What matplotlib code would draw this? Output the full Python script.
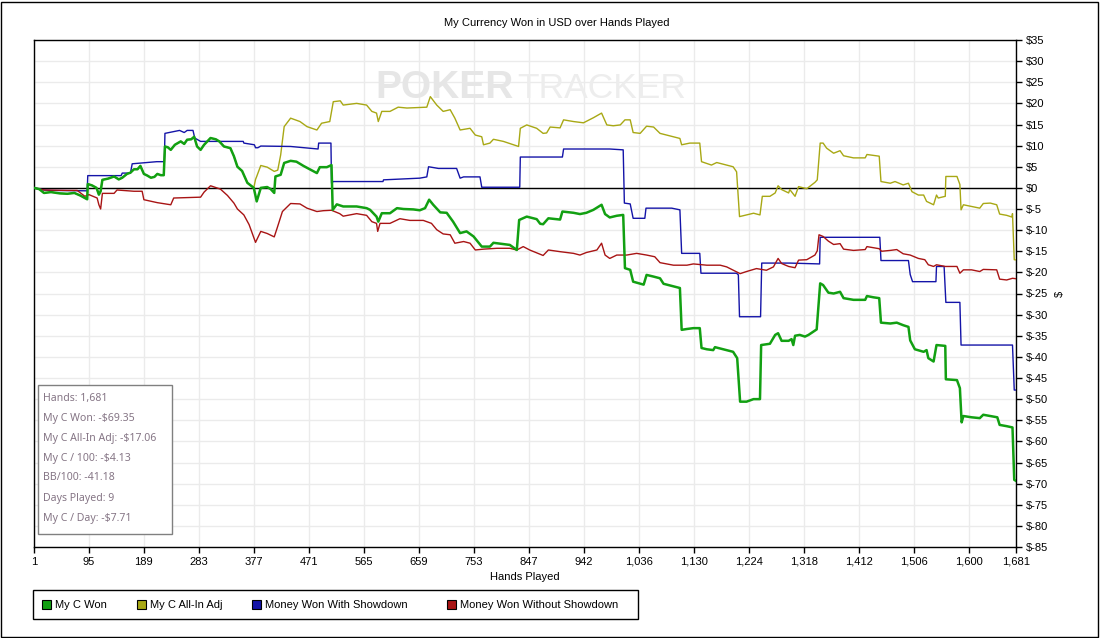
import matplotlib
matplotlib.use("Agg")
import matplotlib.pyplot as plt
from matplotlib.patches import Rectangle

# ---- data (hand number, dollars) ----
won_h = [1, 10, 18, 30, 45, 58, 70, 80, 92, 93, 100, 108, 112, 115, 118, 128, 138, 146, 152, 160,
         166, 172, 178, 183, 189, 195, 201, 207, 212, 218, 223, 225, 230, 235, 242, 252, 258, 263,
         270, 275, 280, 286, 292, 303, 312, 318, 326, 337, 343, 349, 357, 366, 377, 382, 389, 400,
         406, 412, 414, 423, 429, 440, 450, 462, 473, 485, 490, 502, 510, 512, 519, 530, 553, 570,
         576, 587, 590, 596, 610, 622, 633, 650, 661, 670, 677, 684, 696, 707, 718, 730, 741, 753,
         767, 781, 787, 804, 815, 827, 831, 844, 861, 867, 872, 881, 901, 905, 924, 935, 946, 958,
         972, 978, 986, 998, 1009, 1012, 1021, 1026, 1044, 1049, 1061, 1072, 1078, 1095, 1106,
         1109, 1118, 1129, 1140, 1143, 1152, 1163, 1166, 1186, 1197, 1204, 1209, 1220, 1232, 1243,
         1245, 1260, 1269, 1274, 1280, 1292, 1297, 1300, 1303, 1311, 1320, 1326, 1337, 1340, 1346,
         1351, 1360, 1369, 1380, 1386, 1403, 1423, 1426, 1437, 1447, 1450, 1466, 1477, 1488, 1497,
         1500, 1508, 1523, 1528, 1531, 1540, 1545, 1560, 1561, 1580, 1585, 1588, 1591, 1605, 1619,
         1625, 1637, 1649, 1653, 1665, 1675, 1678, 1681]
won_v = [0, -0.3, -1.2, -1.0, -1.3, -1.4, -1.2, -1.8, -2.7, 0.9, 0.6, 0.0, -1.6, -0.8, 1.9, 2.2,
         2.7, 2.0, 2.4, 3.3, 3.6, 4.4, 4.4, 5.2, 3.3, 2.9, 2.4, 2.6, 3.3, 3.0, 3.0, 9.8, 9.6, 9.0,
         10.2, 11.0, 10.4, 11.4, 11.5, 12.1, 9.8, 9.0, 10.2, 11.8, 11.5, 11.0, 9.8, 9.4, 7.5, 5.0,
         4.0, 1.2, 0.0, -3.2, 0.0, 0.2, -0.3, -1.2, 2.7, 3.1, 5.9, 6.4, 6.2, 5.2, 4.4, 3.5, 4.9,
         4.9, 5.4, -5.2, -3.9, -4.4, -4.4, -4.8, -5.2, -6.8, -8.0, -6.0, -6.0, -4.8, -5.0, -5.1,
         -5.3, -4.8, -2.8, -4.0, -5.8, -5.9, -8.0, -10.7, -10.3, -11.5, -13.9, -13.9, -13.0, -13.3,
         -13.5, -14.7, -7.6, -6.8, -7.4, -8.5, -8.6, -7.2, -7.5, -5.6, -5.9, -6.2, -5.9, -5.2, -4.0,
         -6.2, -7.0, -6.6, -6.4, -19.0, -19.4, -22.2, -22.9, -20.6, -21.0, -21.4, -22.7, -23.3,
         -23.7, -33.6, -33.4, -33.2, -33.2, -37.9, -38.2, -38.4, -37.7, -38.4, -38.8, -40.3, -50.6,
         -50.6, -50.0, -50.0, -37.2, -36.9, -34.8, -34.4, -36.2, -36.2, -35.8, -37.2, -35.0, -34.8,
         -35.2, -34.8, -33.8, -33.5, -22.6, -23.0, -24.8, -25.0, -24.6, -26.1, -26.5, -26.5, -25.6,
         -25.9, -26.1, -31.9, -32.1, -31.9, -32.5, -32.9, -36.1, -38.2, -38.8, -38.4, -40.3, -41.1,
         -37.2, -37.4, -45.3, -45.5, -47.4, -55.5, -54.0, -54.3, -54.5, -53.7, -54.0, -54.3, -56.1,
         -56.4, -56.7, -69.1, -69.35]

allin_h = [377, 380, 382, 389, 400, 412, 418, 423, 429, 440, 456, 468, 485, 493, 507, 513, 525,
           530, 553, 570, 579, 587, 590, 596, 610, 624, 639, 656, 673, 679, 690, 701, 713, 721,
           730, 747, 756, 767, 770, 781, 787, 804, 821, 830, 833, 844, 861, 872, 878, 884, 901,
           907, 924, 941, 958, 972, 981, 992, 1004, 1012, 1021, 1026, 1038, 1049, 1061, 1072,
           1089, 1106, 1109, 1123, 1140, 1143, 1160, 1169, 1186, 1197, 1203, 1208, 1220, 1232,
           1243, 1247, 1260, 1269, 1274, 1280, 1292, 1294, 1303, 1309, 1323, 1337, 1341, 1346,
           1351, 1357, 1369, 1380, 1386, 1403, 1423, 1426, 1447, 1450, 1466, 1474, 1488, 1497,
           1503, 1514, 1523, 1528, 1540, 1545, 1548, 1560, 1561, 1580, 1585, 1587, 1591, 1605,
           1619, 1625, 1637, 1648, 1653, 1665, 1674, 1675, 1678, 1681]
allin_v = [0.0, 2.0, 2.7, 5.3, 4.9, 3.9, 4.2, 7.8, 14.5, 16.5, 15.7, 14.5, 13.7, 15.3, 15.7, 20.4,
           20.6, 19.6, 20.0, 19.6, 18.1, 17.7, 15.7, 18.1, 18.1, 19.1, 18.9, 19.0, 19.1, 21.6,
           19.6, 18.1, 18.5, 16.5, 13.7, 14.1, 12.5, 12.1, 10.2, 10.6, 11.5, 11.0, 10.2, 9.8,
           14.1, 14.9, 14.1, 12.9, 13.0, 14.4, 14.2, 16.1, 15.7, 15.4, 16.6, 17.7, 14.9, 14.7,
           14.9, 16.1, 16.1, 13.1, 12.9, 14.6, 14.4, 12.9, 12.3, 11.7, 10.2, 10.6, 10.6, 6.2, 5.4,
           6.0, 5.4, 5.0, 3.8, -6.8, -6.4, -6.0, -6.4, -2.0, -2.0, -1.2, 0.5, -0.4, -1.2, -0.4,
           -2.0, 0.3, -0.2, 1.3, 1.9, 10.6, 10.6, 9.4, 8.2, 8.8, 7.6, 7.1, 7.1, 7.9, 7.5, 1.5,
           1.1, 1.5, 0.7, 1.1, -0.9, -1.7, -1.7, -3.2, -4.0, -1.7, -2.4, -2.0, 2.7, 2.7, 0.8,
           -5.2, -4.0, -4.4, -4.8, -3.7, -3.6, -4.0, -6.2, -6.5, -6.9, -6.1, -17.0, -17.06]

sd_h = [1, 12, 18, 30, 92, 93, 150, 152, 166, 169, 211, 224, 225, 250, 258, 263, 273, 276, 286,
        359, 360, 378, 380, 384, 389, 440, 487, 488, 509, 510, 513, 598, 599, 661, 673, 676, 693,
        724, 730, 736, 764, 767, 832, 833, 905, 907, 986, 1009, 1011, 1021, 1026, 1046, 1048,
        1092, 1106, 1109, 1140, 1142, 1203, 1206, 1208, 1244, 1246, 1294, 1345, 1346, 1448, 1450,
        1497, 1500, 1504, 1544, 1545, 1558, 1561, 1585, 1587, 1675, 1678, 1681]
sd_v = [0, -0.3, -0.5, -0.6, -0.7, 2.9, 2.9, 3.5, 3.5, 5.7, 6.2, 6.2, 12.9, 13.6, 13.1, 13.6,
        13.6, 11.8, 11.0, 11.0, 10.6, 10.2, 9.5, 9.5, 9.9, 9.8, 9.2, 10.6, 10.6, 1.1, 1.5, 1.5,
        1.9, 2.3, 2.6, 5.0, 4.6, 4.6, 2.3, 2.6, 2.6, 0.15, 0.15, 7.3, 7.3, 9.2, 9.2, 9.0, -3.6,
        -3.8, -7.2, -7.2, -4.8, -4.8, -5.2, -15.5, -15.5, -20.2, -20.2, -20.6, -30.5, -30.5,
        -17.8, -17.8, -18.0, -11.7, -11.7, -17.2, -17.2, -20.5, -22.2, -22.2, -18.6, -18.6,
        -27.1, -27.1, -37.2, -37.2, -47.85, -47.85]

nosd_h = [1, 18, 58, 75, 88, 95, 109, 112, 115, 118, 138, 143, 172, 186, 189, 212, 235, 240, 263,
          286, 292, 303, 320, 332, 343, 349, 360, 369, 380, 389, 400, 412, 417, 426, 440, 456,
          468, 485, 496, 510, 524, 530, 553, 570, 579, 587, 589, 593, 610, 627, 644, 667, 681,
          690, 701, 713, 721, 736, 747, 756, 770, 793, 815, 827, 838, 849, 867, 872, 881, 901,
          924, 935, 946, 964, 972, 978, 986, 998, 1015, 1032, 1049, 1063, 1072, 1095, 1118, 1129,
          1152, 1175, 1186, 1203, 1209, 1220, 1237, 1254, 1266, 1274, 1280, 1292, 1303, 1309,
          1323, 1337, 1341, 1344, 1351, 1360, 1369, 1380, 1386, 1403, 1423, 1426, 1447, 1451,
          1466, 1477, 1488, 1500, 1514, 1525, 1531, 1540, 1545, 1560, 1580, 1585, 1591, 1605,
          1619, 1625, 1648, 1653, 1665, 1675, 1681]
nosd_v = [0, -0.5, -0.6, -0.6, -2.0, -1.6, -2.4, -4.0, -5.0, -1.3, -1.3, -0.5, -0.8, -0.8, -2.8,
          -3.5, -4.0, -2.4, -2.3, -2.2, -1.0, 0.5, -0.3, -1.8, -3.6, -5.0, -6.4, -8.7, -12.9,
          -10.3, -10.8, -11.6, -9.5, -5.6, -3.7, -3.8, -4.8, -5.6, -5.4, -5.3, -6.1, -6.7, -6.1,
          -6.5, -8.0, -8.4, -10.3, -8.4, -8.4, -7.3, -7.7, -7.7, -8.4, -9.9, -10.9, -11.1, -13.1,
          -12.7, -13.1, -14.7, -14.5, -14.3, -14.3, -14.7, -13.9, -14.7, -15.7, -16.0, -14.7,
          -15.1, -15.5, -15.9, -15.3, -14.7, -13.1, -15.9, -16.7, -15.9, -15.9, -15.5, -15.9,
          -16.3, -17.7, -18.3, -18.3, -18.0, -18.3, -18.3, -18.7, -19.9, -20.3, -19.8, -19.1,
          -19.5, -18.7, -16.7, -17.9, -18.6, -18.9, -17.1, -17.0, -15.9, -14.9, -11.1, -11.5,
          -12.6, -13.4, -13.2, -14.5, -14.8, -14.6, -13.9, -14.4, -15.0, -14.8, -14.6, -15.6,
          -15.9, -16.7, -17.0, -18.2, -18.6, -18.2, -18.6, -18.6, -20.2, -19.4, -19.4, -19.8,
          -19.3, -19.4, -21.6, -21.8, -21.4, -21.5]

x_ticks = [1, 95, 189, 283, 377, 471, 565, 659, 753, 847, 942, 1036, 1130, 1224, 1318, 1412,
           1506, 1600, 1681]
y_ticks = list(range(-85, 40, 5))

stats = ["Hands: 1,681", "My C Won: -$69.35", "My C All-In Adj: -$17.06", "My C / 100: -$4.13",
         "BB/100: -41.18", "Days Played: 9", "My C / Day: -$7.71"]

series = [("My C Won", "#12a012"), ("My C All-In Adj", "#a8a814"),
          ("Money Won With Showdown", "#1414a8"), ("Money Won Without Showdown", "#a81414")]

# ---- figure ----
plt.rcParams["font.family"] = ["Liberation Sans", "DejaVu Sans"]
W, H = 1100, 638
fig = plt.figure(figsize=(W / 100, H / 100), dpi=100)
ax = fig.add_axes([34 / W, 1 - 547 / H, 982 / W, 507 / H])

# the all-in line equals "won" until the first all-in
pre = [(h, v) for h, v in zip(won_h, won_v) if h < allin_h[0]]
yl_h = [p[0] for p in pre] + allin_h
yl_v = [p[1] for p in pre] + allin_v

ax.plot(yl_h, yl_v, color=series[1][1], lw=1.0, zorder=3)
ax.plot(sd_h, sd_v, color=series[2][1], lw=1.0, zorder=3)
ax.plot(nosd_h, nosd_v, color=series[3][1], lw=1.0, zorder=3)
ax.plot(won_h, won_v, color=series[0][1], lw=1.8, zorder=4)
ax.axhline(0, color="black", lw=1.0, zorder=2)

ax.set_xlim(1, 1681)
ax.set_ylim(-85, 35)
ax.set_xticks(x_ticks)
ax.set_xticklabels([f"{t:,}" for t in x_ticks])
ax.set_yticks(y_ticks)
ax.set_yticklabels([f"${t}" for t in y_ticks])
ax.yaxis.tick_right()
ax.yaxis.set_label_position("right")
ax.tick_params(axis="both", labelsize=8, length=4, width=1, direction="out", color="black")
ax.tick_params(axis="y", pad=3)
ax.tick_params(axis="x", pad=3)
ax.grid(True, color="#ebebeb", lw=1.0, zorder=0)
ax.set_axisbelow(True)
for s in ax.spines.values():
    s.set_linewidth(1.0)
ax.set_xlabel("Hands Played", fontsize=8, labelpad=4)
ax.set_ylabel("$", fontsize=8, labelpad=5)

# watermark
ax.text(0.348, 0.905, "POKER", transform=ax.transAxes, fontsize=28, fontweight="bold",
        color="#e6e6e6", ha="left", va="center", zorder=1)
ax.text(0.492, 0.905, "TRACKER", transform=ax.transAxes, fontsize=25.5,
        color="#ededed", ha="left", va="center", zorder=1)

# stats box
fig.patches.append(Rectangle((38 / W, 1 - 534 / H), 134 / W, 149 / H, transform=fig.transFigure,
                             facecolor="white", edgecolor="#808080", lw=1.0, zorder=5))
for i, line in enumerate(stats):
    fig.text(43 / W, 1 - (398 + 20 * i) / H, line, fontsize=7.6, color="#857585",
             family=["Noto Sans", "DejaVu Sans"], va="center", zorder=6)

fig.suptitle("My Currency Won in USD over Hands Played", x=557 / W, y=1 - 22.5 / H,
             fontsize=8, va="center")

# legend
fig.patches.append(Rectangle((33 / W, 1 - 619 / H), 605 / W, 29 / H, transform=fig.transFigure,
                             facecolor="white", edgecolor="black", lw=1.0))
leg_x = [42, 137, 252, 447]
for (name, col), lx in zip(series, leg_x):
    fig.patches.append(Rectangle((lx / W, 1 - 609 / H), 9 / W, 9 / H, transform=fig.transFigure,
                                 facecolor=col, edgecolor="black", lw=0.8))
    fig.text((lx + 13) / W, 1 - 604.5 / H, name, fontsize=8, va="center")

# outer frame
fig.patches.append(Rectangle((1 / W, 1.5 / H), 1097 / W, 635 / H, transform=fig.transFigure,
                             fill=False, edgecolor="black", lw=1.0))

fig.savefig("out.png", dpi=100)
